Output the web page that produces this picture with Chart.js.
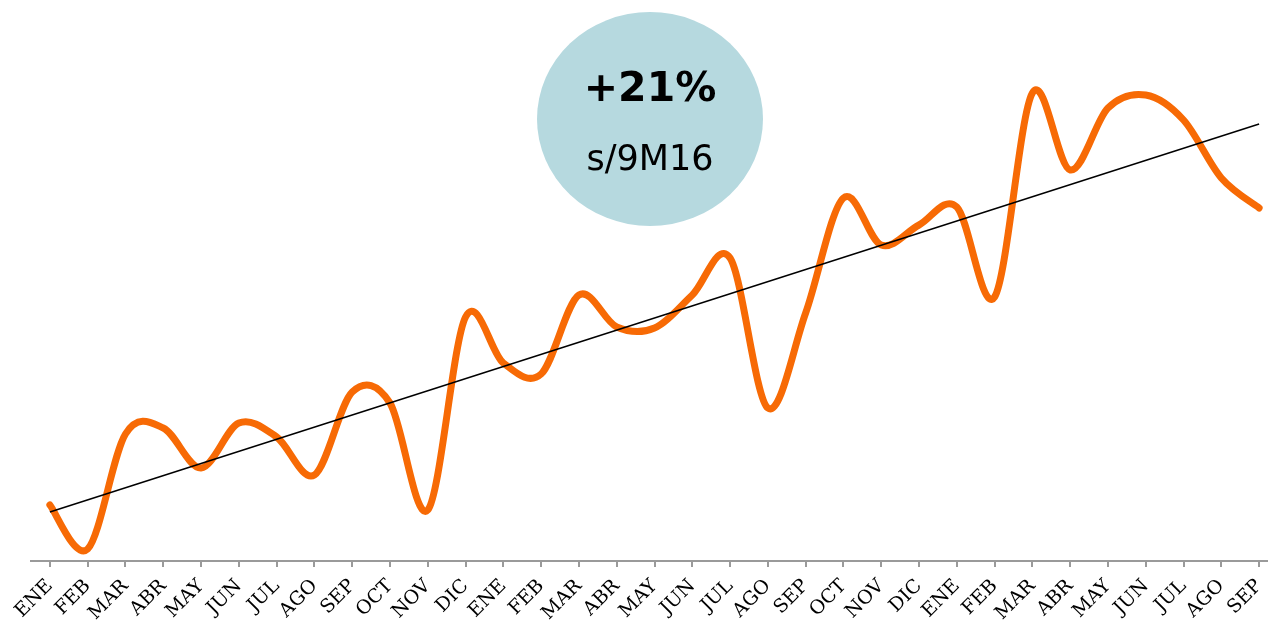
<!DOCTYPE html>
<html>
<head>
<meta charset="utf-8">
<script src="https://cdn.jsdelivr.net/npm/chart.js@4.4.1/dist/chart.umd.min.js"></script>
<style>
  html, body { margin: 0; padding: 0; background: #fff; overflow: hidden; }
  #wrap { width: 1268px; height: 622px; overflow: hidden; }
</style>
</head>
<body>
<div id="wrap"><canvas id="ventasChart" width="1278" height="622"></canvas></div>
<script>
// meses (ENE .. SEP, casi tres años)
const meses = ['ENE','FEB','MAR','ABR','MAY','JUN','JUL','AGO','SEP','OCT','NOV','DIC',
               'ENE','FEB','MAR','ABR','MAY','JUN','JUL','AGO','SEP','OCT','NOV','DIC',
               'ENE','FEB','MAR','ABR','MAY','JUN','JUL','AGO','SEP'];

// valores (escala arbitraria)
const valores = [5.6, 1.2, 12.7, 13.3, 9.3, 13.8, 12.4, 8.6, 16.9, 15.8, 5.1, 24.4,
                 19.8, 18.7, 26.6, 23.4, 23.3, 26.6, 30.3, 15.3, 24.8, 36.3, 31.6, 33.6,
                 35.4, 26.4, 46.8, 39.1, 45.3, 46.6, 44.1, 38.3, 35.3];

// linea de tendencia: valor en el primer y ultimo mes
const tendInicio = 4.9;
const tendFin = 43.7;

const burbujaTitulo = '+21%';
const burbujaSub = 's/9M16';

// serie de tendencia: solo extremos, el resto vacio
const tendencia = meses.map((m, i) => i === 0 ? tendInicio : (i === meses.length - 1 ? tendFin : null));

// suavizado tipo Excel: tangente (sig - ant) / 6, sin ponderar por distancia
const suavizadoPlugin = {
  id: 'suavizado',
  beforeDatasetDraw(chart, args) {
    if (args.index !== 0) return;
    const meta = args.meta;
    const line = meta.dataset;
    line.updateControlPoints(chart.chartArea, meta.indexAxis);
    const pts = meta.data;
    for (let i = 0; i < pts.length; i++) {
      const p = pts[i];
      const prev = pts[i - 1] || p;
      const next = pts[i + 1] || p;
      const dx = (next.x - prev.x) / 6;
      const dy = (next.y - prev.y) / 6;
      p.cp1x = p.x - dx; p.cp1y = p.y - dy;
      p.cp2x = p.x + dx; p.cp2y = p.y + dy;
    }
  }
};

// burbuja con el crecimiento
const burbujaPlugin = {
  id: 'burbuja',
  afterDraw(chart) {
    const ctx = chart.ctx;
    ctx.save();
    ctx.fillStyle = '#b6d9df';
    ctx.beginPath();
    ctx.ellipse(650, 119, 113, 107, 0, 0, Math.PI * 2);
    ctx.fill();
    ctx.fillStyle = '#000';
    ctx.textAlign = 'center';
    ctx.textBaseline = 'middle';
    ctx.font = 'bold 41px "DejaVu Sans"';
    ctx.fillText(burbujaTitulo, 650, 90);
    ctx.font = '35px "DejaVu Sans"';
    ctx.fillText(burbujaSub, 650, 161);
    ctx.restore();
  }
};

const ctx = document.getElementById('ventasChart').getContext('2d');
new Chart(ctx, {
  type: 'line',
  data: {
    labels: meses,
    datasets: [{
      data: valores,
      order: 1,
      borderColor: '#f76a05',
      borderWidth: 7,
      borderCapStyle: 'round',
      borderJoinStyle: 'round',
      tension: 0.4,
      capBezierPoints: false,
      pointRadius: 0,
      fill: false
    }, {
      data: tendencia,
      order: 0,
      spanGaps: true,
      borderColor: '#000',
      borderWidth: 1.5,
      pointRadius: 0,
      tension: 0,
      fill: false
    }]
  },
  options: {
    responsive: false,
    animation: false,
    layout: { padding: { left: 31, right: 0, top: 1, bottom: 0 } },
    plugins: { legend: { display: false }, tooltip: { enabled: false } },
    scales: {
      x: {
        type: 'category',
        offset: true,
        afterFit: (axis) => {
          axis.height = 61;
          axis.paddingLeft = 0;
          axis.paddingRight = 0;
        },
        border: { display: true, color: '#9a9a9a', width: 2 },
        grid: { offset: false, drawOnChartArea: false, drawTicks: true, tickLength: 6, color: '#9a9a9a', lineWidth: 2 },
        ticks: {
          autoSkip: false,
          maxRotation: 45,
          minRotation: 45,
          padding: 8,
          color: '#000',
          font: { family: '"DejaVu Serif"', size: 19 }
        }
      },
      y: { display: false, min: 0, max: 56 }
    }
  },
  plugins: [suavizadoPlugin, burbujaPlugin]
});
</script>
</body>
</html>
